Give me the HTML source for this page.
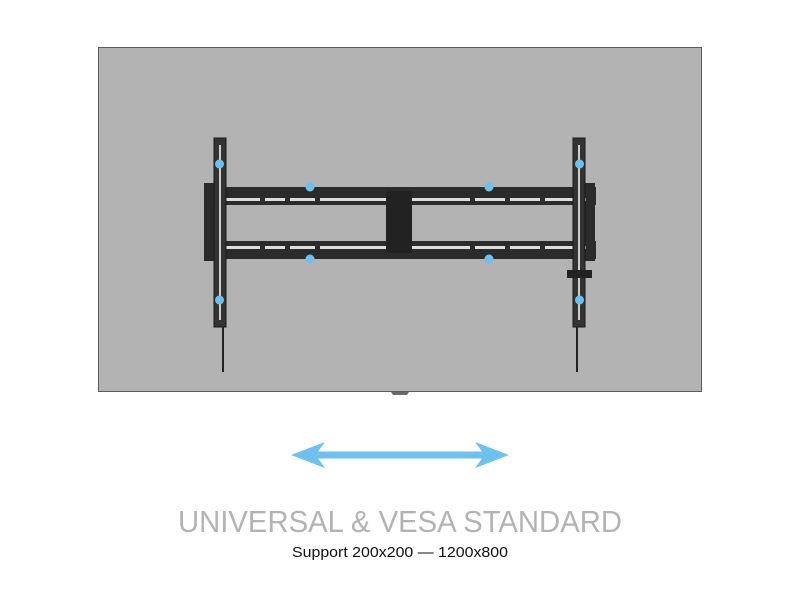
<!DOCTYPE html>
<html><head><meta charset="utf-8"><style>
html,body{margin:0;padding:0;background:#fff;}
svg{display:block;}
</style></head><body>
<svg width="800" height="600" viewBox="0 0 800 600" xmlns="http://www.w3.org/2000/svg">
<rect x="98.5" y="47.5" width="603" height="344" fill="#b3b3b3" stroke="#5a5a5a" stroke-width="1"/>
<path d="M391 392 L409 392 L407 395 L393 395 Z" fill="#6a6a6a"/>
<!-- frame sides -->
<rect x="204" y="183" width="12" height="78" fill="#2a2a2a"/>
<rect x="584" y="183" width="11" height="78" fill="#2a2a2a"/>
<!-- top rail -->
<rect x="204" y="187" width="392" height="18" fill="#2b2b2b"/>
<rect x="226" y="198" width="360" height="3" fill="#ddd"/>
<rect x="204" y="241" width="392" height="18" fill="#2b2b2b"/>
<rect x="226" y="246" width="360" height="3" fill="#ddd"/>
<g fill="#2b2b2b">
<rect x="260" y="196" width="5" height="7"/><rect x="285" y="196" width="5" height="7"/><rect x="315" y="196" width="5" height="7"/>
<rect x="470" y="196" width="5" height="7"/><rect x="505" y="196" width="5" height="7"/><rect x="540" y="196" width="5" height="7"/>
<rect x="260" y="244" width="5" height="7"/><rect x="285" y="244" width="5" height="7"/><rect x="315" y="244" width="5" height="7"/>
<rect x="470" y="244" width="5" height="7"/><rect x="505" y="244" width="5" height="7"/><rect x="540" y="244" width="5" height="7"/>
</g>
<!-- center plate -->
<rect x="386" y="191" width="26" height="62" fill="#222"/>
<!-- uprights -->
<rect x="214" y="138" width="12" height="189" fill="#333" stroke="#1a1a1a"/>
<rect x="219" y="145" width="2" height="175" fill="#ccc"/>
<rect x="222" y="327" width="2" height="45" fill="#222"/>
<rect x="573" y="138" width="12" height="189" fill="#333" stroke="#1a1a1a"/>
<rect x="578" y="145" width="2" height="175" fill="#ccc"/>
<rect x="576" y="327" width="2" height="45" fill="#222"/>
<rect x="567" y="270" width="25" height="8" fill="#222"/>
<!-- dots -->
<g fill="#6ec1ee">
<circle cx="219.5" cy="164" r="4.5"/><circle cx="219.5" cy="300" r="4.5"/>
<circle cx="579.5" cy="164" r="4.5"/><circle cx="579.5" cy="300" r="4.5"/>
<circle cx="310" cy="187" r="4.5"/><circle cx="310" cy="259" r="4.5"/>
<circle cx="489" cy="187" r="4.5"/><circle cx="489" cy="259" r="4.5"/>
</g>
<!-- arrow -->
<path d="M291 455 L325 442 L318 451.5 L482 451.5 L475 442 L509 455 L475 468 L482 458.5 L318 458.5 L325 468 Z" fill="#6ec1ee"/>
<text x="400" y="532" text-anchor="middle" font-family="Liberation Sans, sans-serif" font-size="31" fill="#b3b3b3" textLength="444" lengthAdjust="spacingAndGlyphs">UNIVERSAL &amp; VESA STANDARD</text>
<text x="400" y="557" text-anchor="middle" font-family="Liberation Sans, sans-serif" font-size="15" fill="#111" textLength="216" lengthAdjust="spacingAndGlyphs">Support 200x200 — 1200x800</text>
</svg>
</body></html>
